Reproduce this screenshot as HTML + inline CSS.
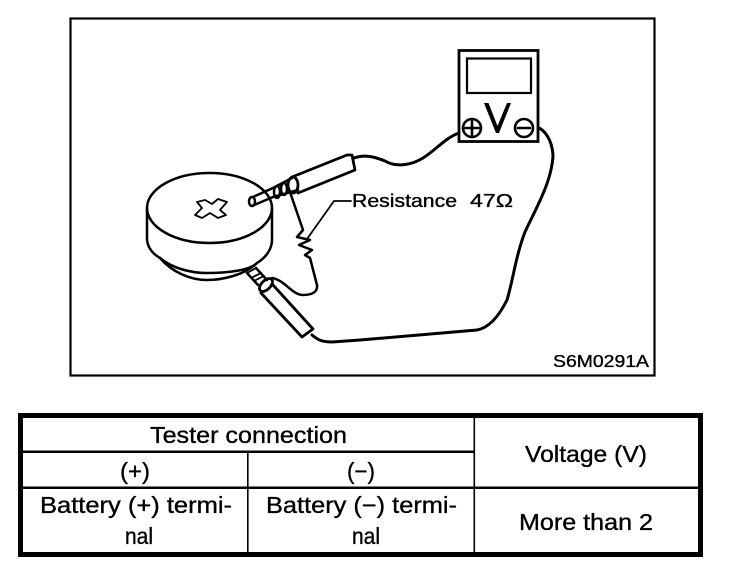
<!DOCTYPE html>
<html><head><meta charset="utf-8"><style>
html,body{margin:0;padding:0;background:#fff}
svg{display:block}
text{font-family:"Liberation Sans",sans-serif;fill:#000;stroke:#000;stroke-width:.35px}
</style></head><body>
<svg width="736" height="574" viewBox="0 0 736 574" xmlns="http://www.w3.org/2000/svg">
<rect x="70.5" y="18.5" width="584" height="357" fill="none" stroke="#000" stroke-width="2.2"/>
<g fill="none" stroke="#000" stroke-width="2.5" stroke-linecap="round" stroke-linejoin="round">
<!-- battery -->
<ellipse cx="209.500" cy="208" rx="62.500" ry="35"/>
<path d="M147 208V240C148 248 153 254 160 258C172 268 190 273 207 273C230 273 250 270 257 263C265 258 272 250 272 240V208"/>
<path d="M160 258C172 272 190 280 207 280C222 280 245 275 257 263"/>
<path d="M197 202L205 200L212 204L218 199L227 202L220 210L226 215L218 218L210 213L202 218L195 215L202 208Z" stroke-width="1.8"/>
<!-- probe 1 -->
<path d="M253 197L273 188M253 205.500L273 197"/>
<ellipse cx="252" cy="201.500" rx="3" ry="4.500"/>
<path d="M273 188L292 178M273 197L298 190"/>
<ellipse cx="277" cy="192" rx="3" ry="6"/><ellipse cx="284" cy="189" rx="3" ry="6"/>
<ellipse cx="293" cy="185" rx="5" ry="8" stroke-width="2.800"/>
<path d="M292 177L347 155L352 155L355 170L298 193" stroke-width="2.800"/>
<!-- wire to + -->
<path d="M354 158C365 154 375 157 385 161C395 167 410 166 423 158C436 150 445 138 459 133" stroke-width="3"/>
<!-- resistor wire -->
<path d="M290 192L303 230L297 237L310 240L299 245L312 250L305 255L310 258L317 285C318 292 312 295 303 295C292 295 285 280 272 278"/>
<!-- leader -->
<path d="M351 201H334L307 239" stroke-width="1.800"/>
<!-- probe 2 -->
<path d="M247 273L258 285M256 268L267 280"/>
<path d="M247 273L256 268M251 278L261 273M254 281L264 276" stroke-width="1.800"/>
<ellipse cx="266" cy="285" rx="8" ry="4.500" transform="rotate(-45 266 285)" stroke-width="2.800"/>
<path d="M261 293L302 337L313 329L273 285" stroke-width="2.800"/>
<!-- wire to - -->
<path d="M312 335C318 340 322 342 332 342L360 340L477 330C488 328 498 318 507 300C513 280 516 255 525 232C535 210 552 182 553 155C552 140 545 130 537 127" stroke-width="3"/>
<!-- meter -->
<rect x="459" y="50.500" width="79" height="91" fill="#fff" stroke-width="2.800" stroke-linejoin="miter"/>
<rect x="467" y="58.500" width="64" height="34.500" stroke-width="2.200" stroke-linejoin="miter"/>
<circle cx="472" cy="128" r="9" stroke-width="2.600"/>
<path d="M472 121V135M465 128H479" stroke-width="2.600"/>
<circle cx="524" cy="128" r="9" stroke-width="2.600"/>
<path d="M518 128H530" stroke-width="2.600"/>
</g>
<path d="M484 103H488.500L497.500 126L507 103H511L499 133H496Z" fill="#000"/>
<text x="352" y="207" font-size="18.500" textLength="105" lengthAdjust="spacingAndGlyphs">Resistance</text>
<text x="470" y="207" font-size="18.500" textLength="43" lengthAdjust="spacingAndGlyphs">47Ω</text>
<text x="553" y="367" font-size="17.500" textLength="96" lengthAdjust="spacingAndGlyphs">S6M0291A</text>
<!-- table -->
<rect x="20.500" y="415.500" width="680" height="139" fill="none" stroke="#000" stroke-width="5"/>
<rect x="23" y="450.500" width="451" height="2.500"/>
<rect x="23" y="486.500" width="677" height="2.500"/>
<rect x="247" y="452" width="1.600" height="100"/>
<rect x="473.500" y="418" width="1.600" height="134"/>
<g font-size="23">
<text x="150" y="443" textLength="197" lengthAdjust="spacingAndGlyphs">Tester connection</text>
<text x="120" y="479" textLength="30" lengthAdjust="spacingAndGlyphs">(+)</text>
<text x="347" y="479" textLength="28" lengthAdjust="spacingAndGlyphs">(−)</text>
<text x="525" y="462" textLength="122" lengthAdjust="spacingAndGlyphs">Voltage (V)</text>
<text x="40" y="513" textLength="192" lengthAdjust="spacingAndGlyphs">Battery (+) termi-</text>
<text x="125" y="544" textLength="28" lengthAdjust="spacingAndGlyphs">nal</text>
<text x="266" y="513" textLength="191" lengthAdjust="spacingAndGlyphs">Battery (−) termi-</text>
<text x="352" y="544" textLength="28" lengthAdjust="spacingAndGlyphs">nal</text>
<text x="519" y="530" textLength="134" lengthAdjust="spacingAndGlyphs">More than 2</text>
</g>
</svg>
</body></html>
